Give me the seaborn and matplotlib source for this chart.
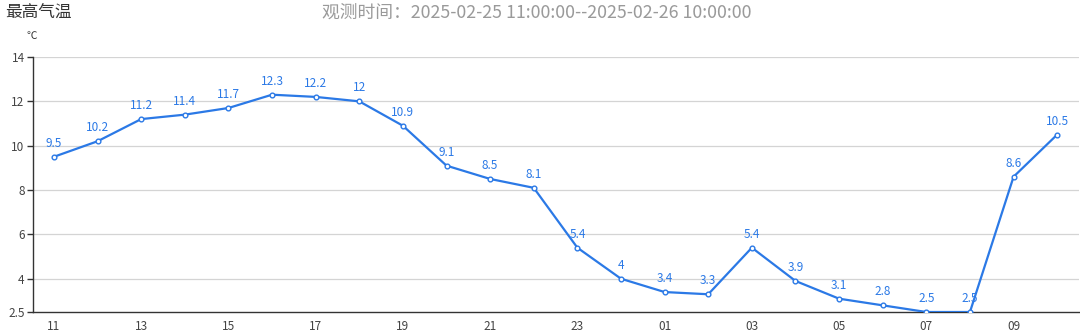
import matplotlib
matplotlib.use("Agg")
import matplotlib.pyplot as plt
import seaborn as sns
import pandas as pd
import numpy as np

hours = ["11", "12", "13", "14", "15", "16", "17", "18", "19", "20", "21", "22",
         "23", "00", "01", "02", "03", "04", "05", "06", "07", "08", "09", "10"]
temps = [9.5, 10.2, 11.2, 11.4, 11.7, 12.3, 12.2, 12, 10.9, 9.1, 8.5, 8.1,
         5.4, 4, 3.4, 3.3, 5.4, 3.9, 3.1, 2.8, 2.5, 2.5, 8.6, 10.5]
yticks = [2.5, 4, 6, 8, 10, 12, 14]
title = "最高气温"
subtitle = "观测时间：2025-02-25 11:00:00--2025-02-26 10:00:00"
unit = "℃"

sns.set_theme(style="white")
plt.rcParams['font.family'] = ['Noto Sans CJK SC', 'DejaVu Sans']

df = pd.DataFrame({"idx": np.arange(len(hours)), "hour": hours, "temp": temps})

blue = "#2b79e6"
fig = plt.figure(figsize=(10.8, 3.35), dpi=100)
ax = fig.add_axes([33/1080, 1-312/335, 1046/1080, (312-57)/335])

sns.lineplot(data=df, x="idx", y="temp", ax=ax, color=blue, linewidth=1.6,
             marker="o", markersize=3.4, markerfacecolor="white",
             markeredgecolor=blue, markeredgewidth=1.0, zorder=3)

for i, v in zip(df["idx"], df["temp"]):
    ax.annotate(f"{v:g}", (i, v), xytext=(0, 5), textcoords="offset points",
                ha="center", va="bottom", fontsize=8.5, color=blue, zorder=4)

ax.set_xlim(-0.48, 23.5)
ax.set_ylim(2.5, 14)
ax.set_yticks(yticks)
ax.set_yticklabels([f"{t:g}" for t in yticks], fontsize=8.5, color="#444444")
for t in yticks[1:]:
    ax.axhline(t, color="#d4d4d4", linewidth=0.9, zorder=1)

major = list(range(0, len(hours), 2))
ax.set_xticks(major)
ax.set_xticklabels([hours[i] for i in major], fontsize=8.5, color="#444444")
ax.set_xticks(list(range(1, len(hours), 2)), minor=True)
ax.tick_params(axis="x", which="major", length=0, pad=6)
ax.tick_params(axis="x", which="minor", length=4, width=1, color="#333333", direction="out")
ax.tick_params(axis="y", length=4, width=1, color="#333333", direction="out", left=True, pad=2)

for s in ["top", "right"]:
    ax.spines[s].set_visible(False)
for s in ["left", "bottom"]:
    ax.spines[s].set_color("#333333")
    ax.spines[s].set_linewidth(1.0)

ax.set_xlabel("")
ax.set_ylabel("")

fig.text(5/1080, 1-13/335, title, fontsize=12, color="#333333", ha="left", va="center")
fig.text(537/1080, 1-13/335, subtitle, fontsize=12.8, color="#9a9a9a", ha="center", va="center")
fig.text(32/1080, 1-36/335, unit, fontsize=7.5, color="#333333", ha="center", va="center")

fig.savefig("out.png", dpi=100)
